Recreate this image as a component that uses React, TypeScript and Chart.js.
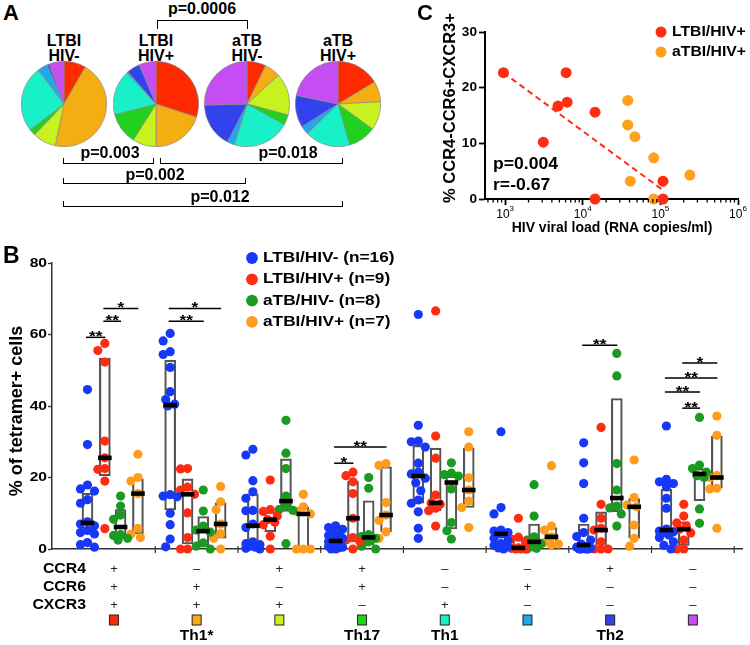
import React, { useEffect, useRef } from 'react';
import { Chart, registerables } from 'chart.js';

Chart.register(...registerables);

const FONT = '"Liberation Sans", Arial, Helvetica, sans-serif';

// ---------------- Panel A : pies ----------------
const subsetColors = ['#FF2A00', '#F5AE12', '#C8F21E', '#22D11E', '#18F0C8', '#1EA8EE', '#3242EC', '#C64CF4'];
const pieTitles = [['LTBI', 'HIV-'], ['LTBI', 'HIV+'], ['aTB', 'HIV-'], ['aTB', 'HIV+']];
const pieLtbiHivNeg = [8.3, 45.0, 8.9, 2.5, 25.0, 3.9, 0.8, 5.6];
const pieLtbiHivPos = [30.0, 20.0, 9.0, 12.0, 17.0, 0.6, 5.0, 6.4];
const pieAtbHivNeg = [7.2, 6.0, 16.0, 3.9, 21.7, 2.8, 17.0, 25.4];
const pieAtbHivPos = [16.4, 7.8, 10.8, 10.6, 17.2, 3.3, 12.2, 21.7];
const pieSeries = [pieLtbiHivNeg, pieLtbiHivPos, pieAtbHivNeg, pieAtbHivPos];

// ---------------- Panel C : scatter ----------------
const cLtbiViral = [950, 6100, 4800, 6300, 14400, 3100, 14400, 108000, 108000];
const cLtbiPct = [22.7, 22.7, 16.7, 17.4, 15.6, 10.2, 0, 3.2, 0];
const cAtbiViral = [38000, 38000, 47000, 82000, 41000, 82000, 240000];
const cAtbiPct = [17.7, 13.3, 11.2, 7.4, 3.2, 0, 4.3];
const cXTicks = [1e3, 1e4, 1e5, 1e6];
const cYTicks = [0, 10, 20, 30];
const cLegend = ['LTBI/HIV+', 'aTBI/HIV+'];
const cStats = ['p=0.004', 'r=-0.67'];

// ---------------- Panel B : subsets ----------------
const bSeriesLabels = ['LTBI/HIV- (n=16)', 'LTBI/HIV+ (n=9)', 'aTB/HIV- (n=8)', 'aTBI/HIV+ (n=7)'];
const bSeriesColors = ['#1838F8', '#FF2C14', '#1B9A22', '#FF9C1C'];
const ccr4Signs = ['+', '–', '+', '+', '–', '–', '+', '–'];
const ccr6Signs = ['+', '+', '–', '+', '–', '+', '–', '–'];
const cxcr3Signs = ['+', '+', '+', '–', '+', '–', '–', '–'];
const thLabels = ['', 'Th1*', '', 'Th17', 'Th1', '', 'Th2', ''];
const bYTicks = [0, 20, 40, 60, 80];
const bXTicks = [1, 2, 3, 4, 5, 6, 7, 8];

const bLtbiHivNeg = [
  [44.6, 29.2, 17.9, 16.8, 16.2, 13.8, 12.8, 7.6, 7.0, 6.5, 5.2, 4.6, 4.2, 1.8, 1.2, 0.5],
  [60.3, 58.2, 55.2, 54.4, 50.8, 44, 41.8, 40.5, 40, 15.2, 14.8, 14.6, 10, 6.8, 2.8, 0.6],
  [27.9, 26.3, 19.1, 16, 14.2, 10.8, 10.7, 7, 6, 2, 1.5, 1.2, 0.8, 0.5, 0.2, 0],
  [6.5, 6, 5.5, 4.8, 4.2, 3.8, 3, 2.5, 2, 1.5, 1, 0.8, 0.5, 0.3, 0, 0],
  [65.6, 34.6, 30.2, 30, 28.5, 24, 21.5, 21, 19.8, 18.5, 16.3, 13.7, 12.8, 10.4, 5.8, 3],
  [32.8, 11.6, 9.8, 5.3, 5, 4.6, 4.4, 4.3, 4.2, 3, 2.4, 1.5, 1, 0.6, 0.3, 0],
  [29.7, 24.1, 18.3, 8.6, 4.6, 3.5, 2.5, 1.4, 0.8, 0.5, 0.3, 0.2, 0, 0, 0, 0],
  [34.4, 19.5, 18.8, 18.3, 17.4, 14.2, 11.4, 5.6, 5, 4.8, 4.5, 3.9, 3.2, 2, 1, 0],
];
const bLtbiHivPos = [
  [57.5, 55.5, 52.3, 30.2, 25.5, 22.5, 22.3, 19, 5.7],
  [22.5, 22.4, 17.3, 16.5, 15.3, 10.1, 3.2, 0, 0],
  [19.3, 11, 10.5, 9.2, 8.2, 7.5, 6.8, 3.6, 0],
  [21.5, 20.5, 18.8, 15.5, 8.6, 3.2, 2.5, 2, 0],
  [66.6, 31.6, 25.4, 15.1, 12.9, 12.5, 11.4, 10.7, 6.4],
  [8.6, 3.3, 2.8, 2, 0.3, 0.2, 0, 0, 0],
  [34, 12.5, 8.6, 5.8, 5.3, 2, 0, 0, 0],
  [12.5, 9.2, 7.3, 6.5, 5.5, 4.5, 2.5, 0, 0],
];
const bAtbHivNeg = [
  [14.8, 12, 9.5, 8.3, 4, 3.8, 3, 2.5],
  [16.5, 10.6, 6.4, 5.3, 4.7, 1.7, 0.8, 0],
  [36, 26.8, 22.5, 14.8, 12, 11, 10.8, 1.5],
  [20, 17, 4, 3.5, 3, 2, 0.8, 0],
  [24.1, 21.2, 20.8, 20.4, 16.8, 7.4, 5.1, 2.8],
  [18, 9.2, 3.4, 2.5, 1.5, 0.6, 0.2, 0],
  [54.7, 48.4, 23.9, 16.5, 12, 11.5, 9.8, 6.4],
  [36.8, 23.5, 22.5, 21.5, 20.5, 20, 11.2, 7.2],
];
const bAtbiHivPos = [
  [26.5, 20, 19, 15.5, 5.8, 4.2, 3.2],
  [17.5, 13.2, 11, 7, 4.3, 3, 0],
  [15.3, 11.8, 10.5, 9.8, 0, 0, 0],
  [23.9, 23.4, 13, 9.5, 8, 4.8, 3],
  [32.8, 28.5, 19.9, 16.5, 13.4, 11.6, 6],
  [23.3, 6.4, 5.3, 3.4, 1.8, 1.4, 1.2],
  [24.9, 14.4, 12.3, 11.8, 6.7, 3, 0.8],
  [37.2, 31.8, 20.5, 20, 17, 16.8, 5.8],
];
const bLtbiHivNegBox = [[4.6, 15.6], [10.9, 52.8], [1.0, 15.4], [0, 4.2], [12.8, 29], [0, 5.3], [0, 7], [4.4, 16.7]];
const bLtbiHivPosBox = [[20.5, 53.4], [1.4, 19.6], [4.8, 10.4], [2.0, 19], [10.7, 28.2], [0, 3], [0, 10.4], [1, 7.6]];
const bAtbHivNegBox = [[3.5, 11], [0.8, 9.1], [10.5, 25.2], [1.1, 13.5], [5.6, 20.4], [0, 7], [10.4, 42.1], [13.5, 22.5]];
const bAtbiHivPosBox = [[4.2, 19.6], [3, 12.9], [0, 11.7], [4.8, 23], [11.6, 28.2], [1.2, 6], [3, 14.1], [17, 31.6]];
// [group, fromSeries, toSeries, height, label]
const bSignificance: [number, number, number, number, string][] = [
  [0, 0, 1, 59.2, '**'], [0, 1, 2, 63.7, '**'], [0, 1, 3, 67.3, '*'],
  [1, 0, 2, 63.7, '**'], [1, 0, 3, 67.3, '*'],
  [3, 0, 1, 24, '*'], [3, 0, 3, 28.5, '**'],
  [6, 0, 2, 57, '**'],
  [7, 1, 3, 52, '*'], [7, 0, 3, 47.8, '**'], [7, 0, 2, 43.9, '**'], [7, 1, 2, 39.4, '**'],
];

const bSeries = [bLtbiHivNeg, bLtbiHivPos, bAtbHivNeg, bAtbiHivPos];
const bBoxes = [bLtbiHivNegBox, bLtbiHivPosBox, bAtbHivNegBox, bAtbiHivPosBox];

// ---------------- layout constants ----------------
const B_X_MIN = -0.249;
const B_X_MAX = 8.094;
const B_PLOT_W = 690;
const B_PLOT_H = 286;
const COL_OFFSETS = [0.18, 0.39, 0.58, 0.79];

function median(a: number[]) {
  const s = [...a].sort((p, q) => p - q);
  const n = s.length;
  return n % 2 ? s[(n - 1) / 2] : (s[n / 2 - 1] + s[n / 2]) / 2;
}

function swarmOffsets(values: number[], pxPerY: number, pxPerX: number) {
  const cands = [0, -4.5, 4.5, -2.5, 2.5, -7, 7];
  const placed: { x: number; y: number }[] = [];
  return values.map((v) => {
    const y = v * pxPerY;
    let best = 0;
    let bestScore = -Infinity;
    for (const o of cands) {
      let minD = Infinity;
      for (const p of placed) {
        const d = Math.hypot(p.x - o, p.y - y);
        if (d < minD) minD = d;
      }
      const score = Math.min(minD, 9) - Math.abs(o) * 0.05;
      if (score > bestScore) {
        bestScore = score;
        best = o;
      }
    }
    placed.push({ x: best, y });
    return best / pxPerX;
  });
}

function drawText(ctx: CanvasRenderingContext2D, text: string, x: number, y: number, size: number,
  o: { bold?: boolean; align?: CanvasTextAlign; sx?: number; color?: string; baseline?: CanvasTextBaseline; rot?: boolean } = {}) {
  ctx.save();
  ctx.font = `${o.bold ? 'bold ' : ''}${size}px ${FONT}`;
  ctx.fillStyle = o.color || '#000';
  ctx.textAlign = o.align || 'left';
  ctx.textBaseline = o.baseline || 'middle';
  ctx.translate(x, y);
  if (o.rot) ctx.rotate(-Math.PI / 2);
  ctx.scale(o.sx || 1, 1);
  ctx.fillText(text, 0, 0);
  ctx.restore();
}

function line(ctx: CanvasRenderingContext2D, x1: number, y1: number, x2: number, y2: number, w: number, c = '#000') {
  ctx.save();
  ctx.strokeStyle = c;
  ctx.lineWidth = w;
  ctx.beginPath();
  ctx.moveTo(x1, y1);
  ctx.lineTo(x2, y2);
  ctx.stroke();
  ctx.restore();
}

// ---------------- Panel C config ----------------
function buildC(): any {
  const lx = cLtbiViral.map((v) => Math.log10(v));
  const n = lx.length;
  const mx = lx.reduce((a, b) => a + b, 0) / n;
  const my = cLtbiPct.reduce((a, b) => a + b, 0) / n;
  let sxy = 0, sxx = 0;
  for (let i = 0; i < n; i++) {
    sxy += (lx[i] - mx) * (cLtbiPct[i] - my);
    sxx += (lx[i] - mx) ** 2;
  }
  const slope = sxy / sxx;
  const xMin = Math.min(...cLtbiViral);
  const xMax = Math.max(...cLtbiViral);
  const fit = (v: number) => my + slope * (Math.log10(v) - mx);

  const plugin = {
    id: 'cExtras',
    afterDraw(chart: any) {
      const ctx = chart.ctx as CanvasRenderingContext2D;
      const xs = chart.scales.x;
      const ys = chart.scales.y;
      const ca = chart.chartArea;
      for (let d = 2; d < 6; d++) {
        for (let k = 2; k < 10; k++) {
          const v = k * Math.pow(10, d);
          if (v < xs.min || v > xs.max) continue;
          const px = xs.getPixelForValue(v);
          line(ctx, px, ca.bottom, px, ca.bottom + 3.5, 1.3);
        }
      }
      xs.ticks.forEach((t: any) => {
        const px = xs.getPixelForValue(t.value);
        const exp = String(Math.round(Math.log10(t.value)));
        ctx.save();
        ctx.font = `12px ${FONT}`;
        const w1 = ctx.measureText('10').width;
        ctx.font = `8px ${FONT}`;
        const w2 = ctx.measureText(exp).width;
        ctx.restore();
        const start = px - (w1 + w2) / 2;
        drawText(ctx, '10', start, ca.bottom + 19, 12, { baseline: 'alphabetic' });
        drawText(ctx, exp, start + w1, ca.bottom + 12, 8, { baseline: 'alphabetic' });
      });
      ys.ticks.forEach((t: any) => {
        drawText(ctx, String(t.value), ca.left - 8, ys.getPixelForValue(t.value), 13, { bold: true, align: 'right', sx: 1.05 });
      });
      drawText(ctx, '% CCR4-CCR6+CXCR3+', 70, 108, 16.5, { bold: true, align: 'center', rot: true });
      drawText(ctx, 'HIV viral load (RNA copies/ml)', 232, 228, 14, { bold: true, align: 'center' });
      drawText(ctx, 'C', 37, 20, 22, { bold: true, baseline: 'alphabetic' });
      const lc = ['#FF2D14', '#FFA01E'];
      cLegend.forEach((lab, i) => {
        ctx.save();
        ctx.fillStyle = lc[i];
        ctx.beginPath();
        ctx.arc(281, 32 + i * 20, 5.5, 0, Math.PI * 2);
        ctx.fill();
        ctx.restore();
        drawText(ctx, lab, 292, 32 + i * 20, 15, { bold: true, sx: 1.05 });
      });
      cStats.forEach((s, i) => drawText(ctx, s, 113, 165 + i * 21, 16, { bold: true, sx: 1.1 }));
    },
  };

  return {
    type: 'scatter',
    data: {
      datasets: [
        {
          type: 'line',
          data: [{ x: xMin, y: fit(xMin) }, { x: xMax, y: fit(xMax) }],
          borderColor: '#FF2D14',
          borderWidth: 2,
          borderDash: [6, 4],
          pointRadius: 0,
          fill: false,
          order: 3,
        },
        {
          data: cAtbiViral.map((v, i) => ({ x: v, y: cAtbiPct[i] })),
          backgroundColor: '#FFA01E',
          pointRadius: 5.5,
          pointBorderWidth: 0,
          clip: false,
          order: 2,
        },
        {
          data: cLtbiViral.map((v, i) => ({ x: v, y: cLtbiPct[i] })),
          backgroundColor: '#FF2D14',
          pointRadius: 5.5,
          pointBorderWidth: 0,
          clip: false,
          order: 1,
        },
      ],
    },
    options: {
      responsive: false,
      animation: false,
      events: [],
      layout: { padding: { top: 32, right: 12, bottom: 0, left: 0 } },
      plugins: { legend: { display: false }, tooltip: { enabled: false } },
      scales: {
        x: {
          type: 'logarithmic',
          min: 550,
          max: 1e6,
          afterBuildTicks: (s: any) => { s.ticks = cXTicks.map((v) => ({ value: v })); },
          afterFit: (s: any) => { s.height = 41; },
          ticks: { callback: () => '' },
          grid: { drawOnChartArea: false, tickLength: 6, tickWidth: 1.8, color: '#000' },
          border: { color: '#000', width: 2 },
        },
        y: {
          type: 'linear',
          min: 0,
          max: 30,
          afterBuildTicks: (s: any) => { s.ticks = cYTicks.map((v) => ({ value: v })); },
          afterFit: (s: any) => { s.width = 105; },
          ticks: { callback: () => '' },
          grid: { drawOnChartArea: false, tickLength: 6, tickWidth: 1.8, color: '#000' },
          border: { color: '#000', width: 2 },
        },
      },
    },
    plugins: [plugin],
  };
}

// ---------------- Panel B config ----------------
function buildB(): any {
  const pxX = B_PLOT_W / (B_X_MAX - B_X_MIN);
  const pxY = B_PLOT_H / 80;
  const datasets: any[] = [];
  bSeries.forEach((series, s) => {
    const pts: any[] = [];
    series.forEach((vals, g) => {
      const off = swarmOffsets(vals, pxY, pxX);
      vals.forEach((v, i) => pts.push({ x: g + COL_OFFSETS[s] + off[i], y: v }));
    });
    datasets.push({
      type: 'scatter',
      data: pts,
      backgroundColor: bSeriesColors[s],
      pointRadius: 4.6,
      pointBorderWidth: 0,
      clip: false,
      order: 2,
    });
    datasets.push({
      type: 'bar',
      data: bBoxes[s].map((b, g) => ({ x: g + COL_OFFSETS[s], y: b })),
      backgroundColor: 'rgba(0,0,0,0)',
      borderColor: '#555',
      borderWidth: 1.5,
      borderSkipped: false,
      grouped: false,
      barPercentage: 1,
      categoryPercentage: 1,
      maxBarThickness: 11,
      clip: false,
      order: 3,
    });
    datasets.push({
      type: 'bar',
      data: series.map((vals, g) => {
        const m = median(vals);
        return { x: g + COL_OFFSETS[s], y: [m - 0.55, m + 0.55] };
      }),
      backgroundColor: '#000',
      borderWidth: 0,
      grouped: false,
      barPercentage: 1,
      categoryPercentage: 1,
      maxBarThickness: 13,
      clip: false,
      order: 1,
    });
  });

  const plugin = {
    id: 'bExtras',
    afterDraw(chart: any) {
      const ctx = chart.ctx as CanvasRenderingContext2D;
      const xs = chart.scales.x;
      const ys = chart.scales.y;
      const ca = chart.chartArea;
      xs.ticks.forEach((t: any) => {
        const px = xs.getPixelForValue(t.value);
        line(ctx, px, ca.bottom - 3, px, ca.bottom + 4, 1.2, '#333');
      });
      ys.ticks.forEach((t: any) => {
        drawText(ctx, String(t.value), ca.left - 5, ys.getPixelForValue(t.value), 13, { bold: true, align: 'right', sx: 1.2 });
      });
      drawText(ctx, '% of tetramer+ cells', 17, 171, 18, { bold: true, align: 'center', rot: true });
      drawText(ctx, 'B', 3, 23, 23, { bold: true, baseline: 'alphabetic' });
      // significance
      bSignificance.forEach(([g, a, b, yv, lab]) => {
        const x1 = xs.getPixelForValue(g + COL_OFFSETS[a]) - 1.5;
        const x2 = xs.getPixelForValue(g + COL_OFFSETS[b]) + 0.5;
        const py = ys.getPixelForValue(yv);
        line(ctx, x1, py, x2, py, 1.5);
        drawText(ctx, lab, (x1 + x2) / 2, py + 4, 15, { bold: true, align: 'center', baseline: 'alphabetic', sx: 1.15 });
      });
      // legend
      bSeriesLabels.forEach((lab, i) => {
        const cy = 18 + i * 21.3;
        ctx.save();
        ctx.fillStyle = bSeriesColors[i];
        ctx.beginPath();
        ctx.arc(252, cy, 5.9, 0, Math.PI * 2);
        ctx.fill();
        ctx.restore();
        drawText(ctx, lab, 263, cy, 15, { bold: true, sx: 1.15 });
      });
      // marker table
      const rows: [string, string[]][] = [['CCR4', ccr4Signs], ['CCR6', ccr6Signs], ['CXCR3', cxcr3Signs]];
      rows.forEach(([name, signs], r) => {
        const py = ca.bottom + 20 + r * 18;
        drawText(ctx, name, 86, py, 14, { bold: true, align: 'right', sx: 1.13 });
        signs.forEach((sg, g) => {
          drawText(ctx, sg, xs.getPixelForValue(g + 0.5), py, 13, { align: 'center', color: '#222' });
        });
      });
      subsetColors.forEach((c, g) => {
        const px = xs.getPixelForValue(g + 0.5);
        const py = ca.bottom + 71;
        ctx.save();
        ctx.fillStyle = c;
        ctx.fillRect(px - 4.5, py - 5, 9, 10);
        ctx.strokeStyle = '#222';
        ctx.lineWidth = 1;
        ctx.strokeRect(px - 4.5, py - 5, 9, 10);
        ctx.restore();
      });
      thLabels.forEach((t, g) => {
        if (t) drawText(ctx, t, xs.getPixelForValue(g + 0.5), ca.bottom + 87, 15.5, { bold: true, align: 'center' });
      });
    },
  };

  return {
    type: 'scatter',
    data: { datasets },
    options: {
      responsive: false,
      animation: false,
      events: [],
      layout: { padding: { top: 23, right: 8, bottom: 86, left: 0 } },
      plugins: { legend: { display: false }, tooltip: { enabled: false } },
      scales: {
        x: {
          type: 'linear',
          min: B_X_MIN,
          max: B_X_MAX,
          offset: false,
          afterBuildTicks: (s: any) => { s.ticks = bXTicks.map((v) => ({ value: v })); },
          afterFit: (s: any) => { s.height = 10; },
          ticks: { callback: () => '' },
          grid: { display: false, offset: false },
          border: { color: '#333', width: 1.5 },
        },
        y: {
          type: 'linear',
          min: 0,
          max: 80,
          afterBuildTicks: (s: any) => { s.ticks = bYTicks.map((v) => ({ value: v })); },
          afterFit: (s: any) => { s.width = 52; },
          ticks: { callback: () => '' },
          grid: { drawOnChartArea: false, tickLength: 4, tickWidth: 1.3, color: '#333' },
          border: { color: '#333', width: 1.5 },
        },
      },
    },
    plugins: [plugin],
  };
}

// ---------------- small HTML helpers for panel A annotations ----------------
const txt = (s: string, x: number, y: number, size = 16): React.ReactElement => (
  <div key={s + x + y} style={{ position: 'absolute', left: x, top: y, transform: 'translate(-50%,-50%)', font: `bold ${size}px ${FONT}`, lineHeight: '1', whiteSpace: 'nowrap', color: '#000' }}>{s}</div>
);
const bracket = (x1: number, x2: number, y: number, leg: number, up: boolean, k: string): React.ReactElement => (
  <div key={k} style={{
    position: 'absolute', left: x1, width: x2 - x1, top: up ? y - leg : y, height: leg, boxSizing: 'border-box',
    borderLeft: '1.5px solid #000', borderRight: '1.5px solid #000',
    ...(up ? { borderBottom: '1.5px solid #000' } : { borderTop: '1.5px solid #000' }),
  }} />
);

const PIE_CX = [64, 156, 247, 338];

export default function App() {
  const p0 = useRef<HTMLCanvasElement>(null);
  const p1 = useRef<HTMLCanvasElement>(null);
  const p2 = useRef<HTMLCanvasElement>(null);
  const p3 = useRef<HTMLCanvasElement>(null);
  const cRef = useRef<HTMLCanvasElement>(null);
  const bRef = useRef<HTMLCanvasElement>(null);
  const pieRefs = [p0, p1, p2, p3];

  useEffect(() => {
    const charts: Chart[] = [];
    pieRefs.forEach((r, i) => {
      if (!r.current) return;
      charts.push(new Chart(r.current, {
        type: 'pie',
        data: { labels: subsetColors.map((_, k) => String(k)), datasets: [{ data: pieSeries[i], backgroundColor: subsetColors, borderColor: '#8a8a8a', borderWidth: 0.7 }] },
        options: {
          responsive: false, animation: false, events: [],
          layout: { padding: 0 },
          plugins: { legend: { display: false }, tooltip: { enabled: false } },
        },
      } as any));
    });
    if (cRef.current) charts.push(new Chart(cRef.current, buildC()));
    if (bRef.current) charts.push(new Chart(bRef.current, buildB()));
    return () => charts.forEach((c) => c.destroy());
  }, []);

  return (
    <div style={{ position: 'absolute', left: 0, top: 0, width: 750, height: 645, background: '#fff', overflow: 'hidden' }}>
      <div style={{ position: 'absolute', left: 3, top: 2, font: `bold 22px ${FONT}`, lineHeight: '1' }}>A</div>
      {pieTitles.map((t, i) => [txt(t[0], PIE_CX[i], 41), txt(t[1], PIE_CX[i], 56)])}
      {pieRefs.map((r, i) => (
        <canvas key={i} ref={r} width={86} height={86} style={{ position: 'absolute', left: PIE_CX[i] - 43, top: 61, width: 86, height: 86 }} />
      ))}
      {txt('p=0.0006', 202, 9)}
      {bracket(157, 248, 19.5, 9, false, 'b0')}
      {txt('p=0.003', 110, 153)}
      {bracket(62.5, 154, 164, 6, true, 'b1')}
      {txt('p=0.018', 288, 153)}
      {bracket(160, 343, 164, 6, true, 'b2')}
      {txt('p=0.002', 155, 175)}
      {bracket(62.5, 246, 184, 6, true, 'b3')}
      {txt('p=0.012', 220, 197)}
      {bracket(62.5, 343, 207, 6, true, 'b4')}
      <canvas ref={cRef} width={370} height={240} style={{ position: 'absolute', left: 380, top: 0, width: 370, height: 240 }} />
      <canvas ref={bRef} width={750} height={405} style={{ position: 'absolute', left: 0, top: 240, width: 750, height: 405 }} />
    </div>
  );
}
